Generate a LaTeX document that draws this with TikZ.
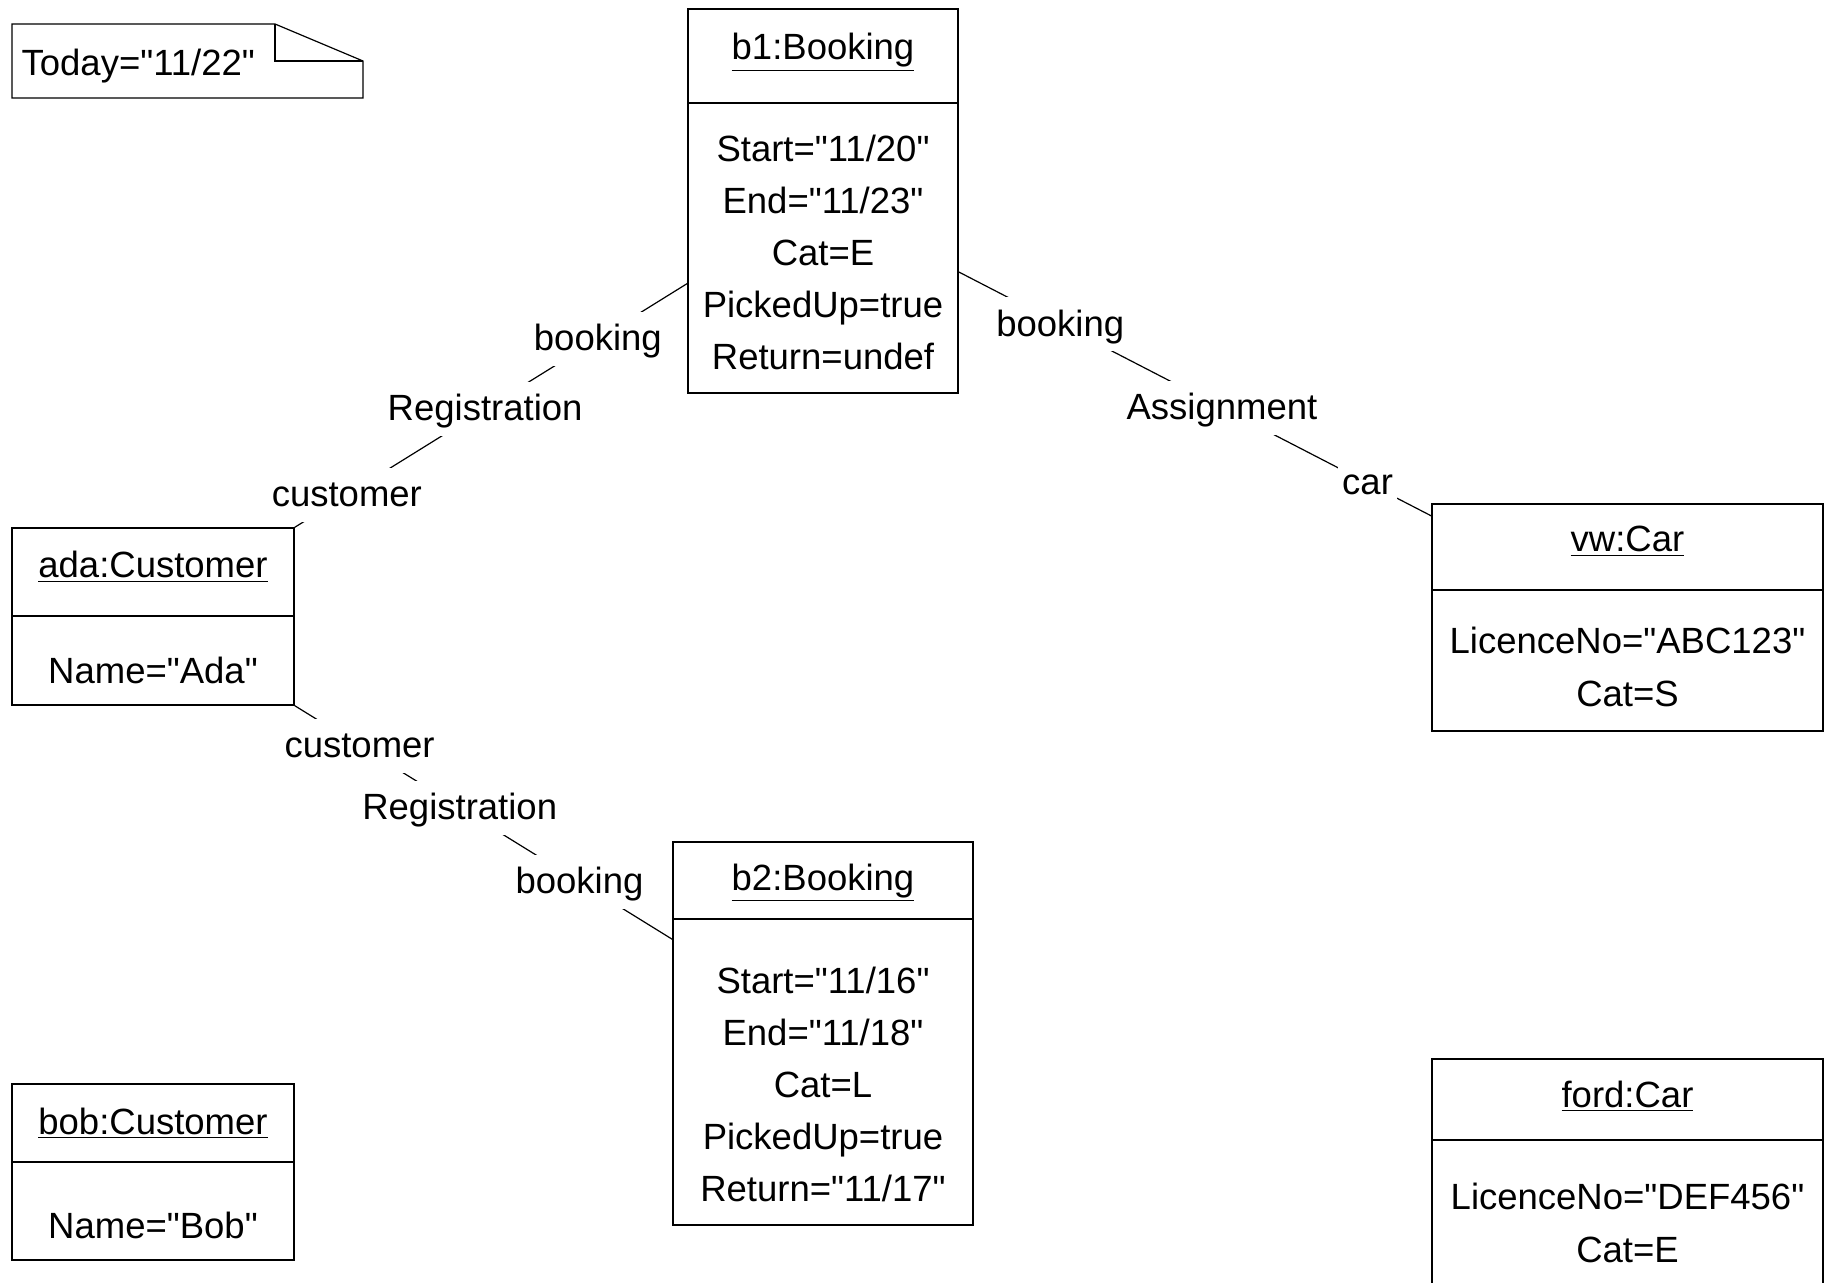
\documentclass[tikz,border=0pt]{standalone}
\usepackage{fontspec}
\setmainfont{Liberation Sans}[Ligatures=TeXOff]
\usetikzlibrary{calc,fit}

\tikzset{
    obj/.style={draw, inner sep=0pt},
    txt/.style={anchor=base, inner sep=0pt},
    role/.style={fill=white, inner xsep=2pt, inner ysep=3pt, text height=16.5pt, text depth=4.6pt},
}

\begin{document}
\begin{tikzpicture}[x=0.5pt, y=-0.5pt, line width=0.6pt,
        font=\fontsize{18.25}{26}\selectfont]
    \clip (0,0) rectangle (1828,1283);

    % note
    \draw (12,24) -- (275,24) -- (363,61) -- (363,98) -- (12,98) -- cycle;
    \draw (275,24) -- (275,61) -- (363,61);
    \node[anchor=base west, inner sep=0pt] (today) at (21,76) {Today="11/22"};

    % objects
    \node[obj, fit={(688,9) (958,393)}] (b1) {};
    \draw (b1.west |- 0,103) -- (b1.east |- 0,103);
    \node[txt] (b1t) at (823,60) {\underline{b1:Booking}};
    \foreach \t [count=\i] in {Start="11/20", End="11/23", Cat=E, PickedUp=true, Return=undef}
        \node[txt] (b1a\i) at (823,110+52*\i) {\t};

    \node[obj, fit={(12,528) (294,705)}] (ada) {};
    \draw (ada.west |- 0,616) -- (ada.east |- 0,616);
    \node[txt] (adat) at (153,578) {\underline{ada:Customer}};
    \node[txt] (adaa) at (153,683) {Name="Ada"};

    \node[obj, fit={(1432,504) (1823,731)}] (vw) {};
    \draw (vw.west |- 0,590) -- (vw.east |- 0,590);
    \node[txt] (vwt) at (1627.5,552) {\underline{vw:Car}};
    \node[txt] (vwa1) at (1627.5,654) {LicenceNo="ABC123"};
    \node[txt] (vwa2) at (1627.5,707) {Cat=S};

    \node[obj, fit={(673,842) (973,1225)}] (b2) {};
    \draw (b2.west |- 0,919) -- (b2.east |- 0,919);
    \node[txt] (b2t) at (823,890) {\underline{b2:Booking}};
    \foreach \t [count=\i] in {Start="11/16", End="11/18", Cat=L, PickedUp=true, Return="11/17"}
        \node[txt] (b2a\i) at (823,941+52*\i) {\t};

    \node[obj, fit={(12,1084) (294,1260)}] (bob) {};
    \draw (bob.west |- 0,1162) -- (bob.east |- 0,1162);
    \node[txt] (bobt) at (153,1134) {\underline{bob:Customer}};
    \node[txt] (boba) at (153,1238) {Name="Bob"};

    \node[obj, fit={(1432,1059) (1823,1290)}] (ford) {};
    \draw (ford.west |- 0,1140) -- (ford.east |- 0,1140);
    \node[txt] (fordt) at (1627.5,1107) {\underline{ford:Car}};
    \node[txt] (forda1) at (1627.5,1209) {LicenceNo="DEF456"};
    \node[txt] (forda2) at (1627.5,1262) {Cat=E};

    % links
    \draw (ada.north east)
        -- node[role, pos=0.133] (reg1c) {customer}
           node[role, pos=0.485] (reg1n) {Registration}
           node[role, pos=0.772] (reg1b) {booking}
        ($(b1.south west)!0.286!(b1.north west)$);
    \draw ($(b1.south east)!0.316!(b1.north east)$)
        -- node[role, pos=0.215] (asgb) {booking}
           node[role, pos=0.557] (asgn) {Assignment}
           node[role, pos=0.865] (asgc) {car}
        ($(vw.north west)!0.055!(vw.south west)$);
    \draw (ada.south east)
        -- node[role, pos=0.172] (reg2c) {customer}
           node[role, pos=0.437] (reg2n) {Registration}
           node[role, pos=0.754] (reg2b) {booking}
        ($(b2.north west)!0.255!(b2.south west)$);
\end{tikzpicture}
\end{document}
